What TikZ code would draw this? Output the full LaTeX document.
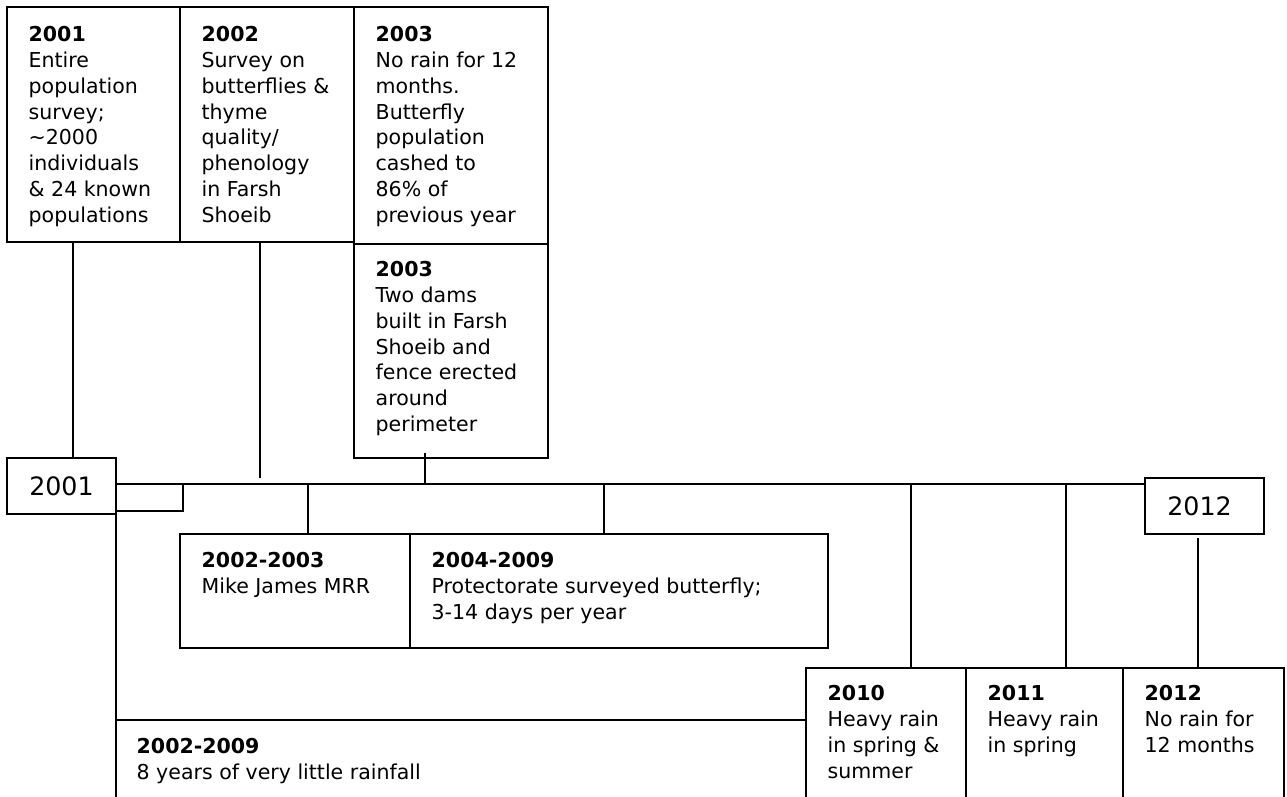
\documentclass[tikz,border=0pt]{standalone}
\usepackage{fontspec}
\setmainfont{DejaVu Sans}
\usetikzlibrary{calc}
\begin{document}
\begin{tikzpicture}[x=0.75pt,y=-0.75pt,line width=1pt,
  box/.style 2 args={draw,line width=1pt,minimum width=#1*0.75pt,minimum height=#2*0.75pt,anchor=north west,inner sep=0pt,outer sep=0pt},
  txt/.style={anchor=north west,align=left,inner sep=0pt,font=\fontsize{15.4}{19.3}\selectfont},
  yrlabel/.style={font=\fontsize{19}{22}\selectfont,inner sep=0pt}]
\useasboundingbox (0,0) rectangle (1287,796);
% top boxes
\node[box={173}{235}] (b2001) at (7,7) {};
\node[box={174}{235}] (b2002) at (180,7) {};
\node[box={194}{237}] (b2003a) at (354,7) {};
\node[box={194}{214}] (b2003b) at (354,244) {};
\node[txt] (t2001) at (28,26) {\textbf{2001}\\Entire\\population\\survey;\\\textasciitilde2000\\individuals\\\& 24 known\\populations};
\node[txt] (t2002) at (201,26) {\textbf{2002}\\Survey on\\butterflies \&\\thyme\\quality/\\phenology\\in Farsh\\Shoeib};
\node[txt] (t2003a) at (375,26) {\textbf{2003}\\No rain for 12\\months.\\Butterfly\\population\\cashed to\\86\% of\\previous year};
\node[txt] (t2003b) at (375,261) {\textbf{2003}\\Two dams\\built in Farsh\\Shoeib and\\fence erected\\around\\perimeter};
% year boxes
\node[box={109}{56}] (y2001) at (7,458) {};
\node[yrlabel] (ly2001) at (y2001.center) {2001};
\node[box={119}{56}] (y2012) at (1145,478) {};
\node[yrlabel] (ly2012) at ($(y2012.center)+(-5,0)$) {2012};
% middle boxes
\node[box={230}{114}] (b0203) at (180,534) {};
\node[box={418}{114}] (b0409) at (410,534) {};
\node[txt] (t0203) at (201,552) {\textbf{2002-2003}\\Mike James MRR};
\node[txt] (t0409) at (431,552) {\textbf{2004-2009}\\Protectorate surveyed butterfly;\\3-14 days per year};
% bottom boxes
\node[box={160}{150}] (b2010) at (806,668) {};
\node[box={157}{150}] (b2011) at (966,668) {};
\node[box={161}{150}] (b2012) at (1123,668) {};
\node[txt] (t2010) at (827,685) {\textbf{2010}\\Heavy rain\\in spring \&\\summer};
\node[txt] (t2011) at (987,685) {\textbf{2011}\\Heavy rain\\in spring};
\node[txt] (t2012) at (1144,685) {\textbf{2012}\\No rain for\\12 months};
\node[txt] (t0209) at (136,738) {\textbf{2002-2009}\\8 years of very little rainfall};
% timeline
\coordinate (tlS) at (116,484);
\coordinate (tlE) at (1145,484);
\draw (tlS) -- (tlE);
\coordinate (bk) at (183,511);
\draw (tlS) -| (bk) -- (bk -| y2001.east);
% rainfall bracket
\draw (y2001.south east) -- ($(y2001.south east |- 0,796)+(0,5)$);
\coordinate (rainL) at (116,720);
\draw (rainL) -- (rainL -| b2010.west);
% connectors from top
\coordinate (c2001) at (73,0);
\draw (b2001.south -| c2001) -- (y2001.north -| c2001);
\coordinate (c2002) at (260,478);
\draw (b2002.south -| c2002) -- (c2002);
\coordinate (c2003) at (425,453);
\draw (c2003) -- (c2003 |- tlS);
% connectors down
\coordinate (c0203) at (308,0);
\draw (tlS -| c0203) -- (b0203.north -| c0203);
\coordinate (c0409) at (604,0);
\draw (tlS -| c0409) -- (b0409.north -| c0409);
\coordinate (c2010) at (911,0);
\draw (tlS -| c2010) -- (b2010.north -| c2010);
\coordinate (c2011) at (1066,0);
\draw (tlS -| c2011) -- (b2011.north -| c2011);
\coordinate (c2012) at (1198,538);
\draw (c2012) -- (b2012.north -| c2012);
\end{tikzpicture}
\end{document}
